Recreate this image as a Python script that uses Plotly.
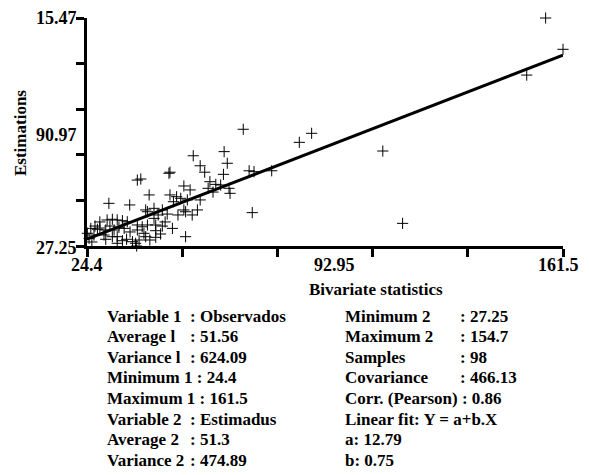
import plotly.graph_objects as go

# ---- data ----
obs_x = [55.0, 63.9, 64.8, 57.0, 58.3, 63.7, 48.0, 48.3, 38.9, 39.9,
         52.3, 59.8, 59.3, 61.5, 62.9, 65.3, 65.6, 71.1, 72.5, 42.3,
         48.3, 50.2, 51.4, 49.3, 53.3, 30.7, 36.7, 41.3, 43.7, 46.1,
         52.3, 52.8, 56.2, 54.7, 47.5, 43.7, 72.0, 30.2, 31.7, 33.1,
         34.6, 36.0, 25.5, 27.4, 29.8, 33.6, 38.9, 40.3, 41.8, 44.2,
         46.1, 49.0, 38.9, 40.8, 44.2, 45.6, 24.5, 26.4, 29.3, 31.7,
         33.1, 29.8, 41.3, 44.2, 52.8, 25.0, 34.6, 35.8, 37.5, 38.4,
         33.1, 39.4, 32.2, 35.1, 41.8, 69.4, 85.55, 89.1, 77.6, 109.6,
         115.3, 156.5, 161.5, 151.05, 38.7, 28.1, 36.8, 26.7, 42.5, 46.9,
         50.6, 57.0, 60.7, 25.8, 31.0, 28.1, 44.9, 54.1]
est_y = [77.7, 80.0, 73.5, 72.1, 68.5, 67.3, 67.9, 68.5, 64.1, 64.7,
         60.8, 63.2, 59.5, 61.7, 61.35, 59.5, 56.7, 69.3, 68.8, 55.8,
         55.8, 54.8, 53.9, 52.0, 53.0, 51.1, 50.2, 47.4, 48.3, 47.4,
         47.4, 46.4, 47.4, 44.6, 45.1, 42.7, 45.9, 41.8, 42.2, 41.8,
         41.4, 40.8, 37.1, 36.6, 36.2, 37.7, 39.0, 38.0, 39.0, 39.0,
         38.4, 37.1, 36.2, 34.35, 35.8, 33.96, 34.35, 33.4, 33.4, 32.45,
         32.45, 31.0, 32.45, 32.1, 32.45, 31.55, 30.2, 31.0, 29.65, 28.76,
         28.76, 30.6, 36.2, 37.1, 46.4, 92.5, 85.2, 90.25, 69.3, 80.35,
         39.9, 154.7, 137.2, 122.8, 27.25, 37.3, 35.1, 38.4, 30.6, 40.7,
         44.6, 53.0, 57.4, 29.5, 38.4, 40.7, 44.6, 58.6]

x_min, x_max = 24.4, 161.5
y_min, y_max = 27.25, 154.7
fit_a, fit_b = 12.79, 0.75

x_tick_labels = ["24.4", "92.95", "161.5"]
y_tick_labels = ["27.25", "90.97", "15.47"]

x_title = "Bivariate statistics"
y_title = "Estimations"

stats_left = [("Variable 1", ": Observados"), ("Average l", ": 51.56"),
              ("Variance l", ": 624.09"), ("Minimum 1 : 24.4", None),
              ("Maximum 1 : 161.5", None), ("Variable 2", ": Estimadus"),
              ("Average 2", ": 51.3"), ("Variance 2", ": 474.89")]
stats_right = [("Minimum 2", ": 27.25"), ("Maximum 2", ": 154.7"),
               ("Samples", ": 98"), ("Covariance", ": 466.13"),
               ("Corr. (Pearson) : 0.86", None), ("Linear fit: Y = a+b.X", None),
               ("a: 12.79", None), ("b: 0.75", None)]

# ---- figure ----
W, H = 589, 475
ML, MR, MT, MB = 87, 26, 18, 229
PW, PH = W - ML - MR, H - MT - MB
FONT = "Liberation Serif"

def px_x(p):
    return (p - ML) / PW

def px_y(p):
    return (H - MB - p) / PH

n_div = 5
x_ticks = [x_min + k * (x_max - x_min) / n_div for k in range(n_div + 1)]
y_ticks = [y_min + k * (y_max - y_min) / n_div for k in range(n_div + 1)]

fig = go.Figure()
fig.add_trace(go.Scatter(
    x=obs_x, y=est_y, mode="markers",
    marker=dict(symbol="cross-thin", size=8, line=dict(color="black", width=1)),
    cliponaxis=False, showlegend=False))
fig.add_trace(go.Scatter(
    x=[x_min, x_max], y=[fit_a + fit_b * x_min, fit_a + fit_b * x_max],
    mode="lines", line=dict(color="black", width=3), showlegend=False))

tfont = dict(family=FONT, size=18, color="black")
bold = dict(family=FONT, size=17, color="black")
axis_common = dict(showgrid=False, zeroline=False, automargin=False,
                   showline=True, linecolor="black", linewidth=3,
                   ticks="outside", ticklen=8, tickwidth=2.5, tickcolor="black",
                   showticklabels=False)
fig.update_xaxes(range=[x_min, x_max], tickvals=x_ticks, **axis_common)
fig.update_yaxes(range=[y_min, y_max], tickvals=y_ticks, **axis_common)

ann = []
# tick labels (min, middle, max only, as in the original)
x_lab_pos = [x_min, (x_min + x_max) / 2, x_max]
x_lab_shift = [0, 9, -5]
for v, t, s in zip(x_lab_pos, x_tick_labels, x_lab_shift):
    ann.append(dict(x=v, y=px_y(265), xref="x", yref="paper",
                    text="<b>%s</b>" % t, showarrow=False, xshift=s,
                    xanchor="center", yanchor="middle", font=tfont))
y_lab_pos = [y_min, (y_min + y_max) / 2, y_max]
y_lab_shift = [-2, -3, 0]
for v, t, s in zip(y_lab_pos, y_tick_labels, y_lab_shift):
    ann.append(dict(x=px_x(79), y=v, xref="paper", yref="y",
                    text="<b>%s</b>" % t, showarrow=False, yshift=s,
                    xanchor="right", yanchor="middle", font=tfont))
# axis titles
ann.append(dict(x=px_x(376), y=px_y(289), xref="paper", yref="paper",
                text="<b>%s</b>" % x_title, showarrow=False,
                xanchor="center", yanchor="middle", font=bold))
ann.append(dict(x=px_x(20), y=px_y(133), xref="paper", yref="paper",
                text="<b>%s</b>" % y_title, showarrow=False, textangle=-90,
                xanchor="center", yanchor="middle", font=bold))

sfont = dict(family=FONT, size=17, color="black")
y0, dy = 316, 20.6
for cols, xl, xv in ((stats_left, 105, 188), (stats_right, 343, 458)):
    for i, (lab, val) in enumerate(cols):
        yy = px_y(y0 + i * dy)
        ann.append(dict(x=px_x(xl), y=yy, xref="paper", yref="paper",
                        text="<b>%s</b>" % lab, showarrow=False,
                        xanchor="left", yanchor="middle", font=sfont))
        if val is not None:
            ann.append(dict(x=px_x(xv), y=yy, xref="paper", yref="paper",
                            text="<b>%s</b>" % val, showarrow=False,
                            xanchor="left", yanchor="middle", font=sfont))

fig.update_layout(width=W, height=H, margin=dict(l=ML, r=MR, t=MT, b=MB),
                  plot_bgcolor="white", paper_bgcolor="white",
                  annotations=ann, font=dict(family=FONT))
fig.write_html("out.html", config={"displayModeBar": False},
               post_script="document.body.style.margin='0';"
                           "document.body.style.overflow='hidden';")
